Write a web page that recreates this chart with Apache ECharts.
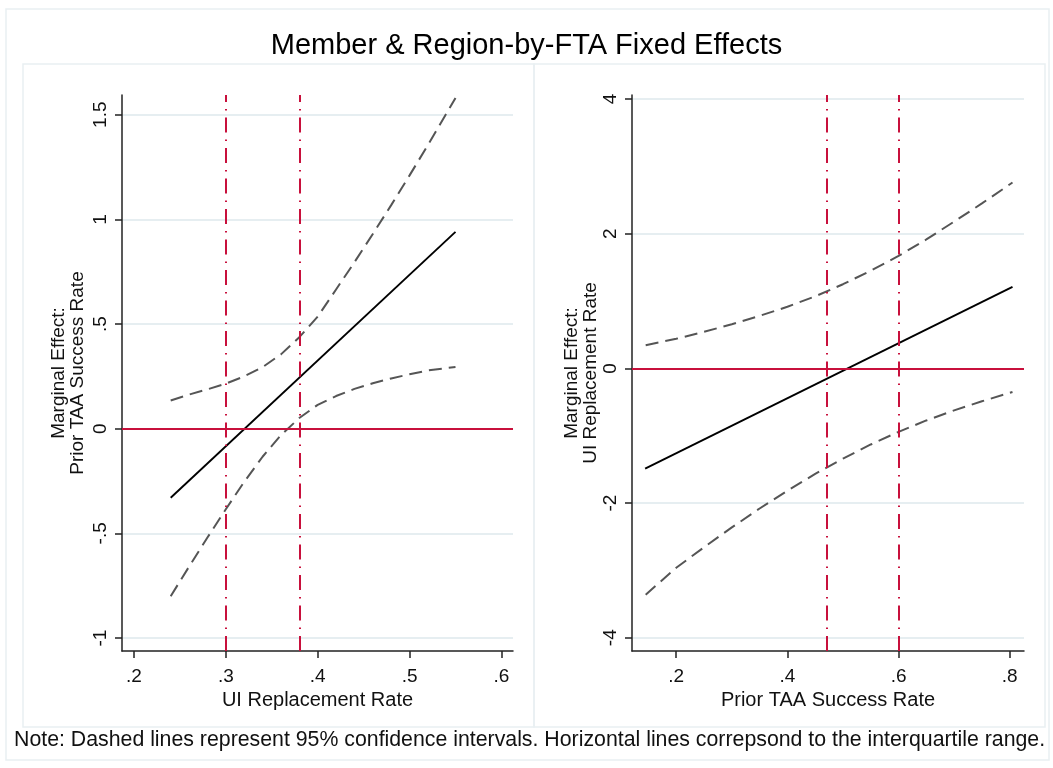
<!DOCTYPE html>
<html>
<head>
<meta charset="utf-8">
<script src="https://cdn.jsdelivr.net/npm/echarts@6/dist/echarts.min.js"></script>
<style>html,body{margin:0;padding:0;background:#fff;}#c{width:1053px;height:768px;}</style>
</head>
<body>
<div id="c"></div>
<script>
// ---------- data ----------
const titleText = 'Member & Region-by-FTA Fixed Effects';
const noteText = 'Note: Dashed lines represent 95% confidence intervals. Horizontal lines correpsond to the interquartile range.';

// Left panel: marginal effect of Prior TAA Success Rate vs UI Replacement Rate
const leftX      = [0.24, 0.26, 0.28, 0.30, 0.32, 0.34, 0.36, 0.38, 0.40, 0.42, 0.44, 0.46, 0.48, 0.50, 0.52, 0.55];
const leftUpper  = [0.135, 0.163, 0.188, 0.215, 0.250, 0.294, 0.355, 0.437, 0.535, 0.665, 0.795, 0.930, 1.068, 1.210, 1.355, 1.580];
const leftLower  = [-0.800, -0.659, -0.520, -0.385, -0.254, -0.134, -0.031, 0.051, 0.114, 0.156, 0.190, 0.217, 0.240, 0.260, 0.278, 0.295];
const leftCenterX = [0.24, 0.55];
const leftCenter  = [-0.33, 0.94];
const leftIQR    = [0.305, 0.376];
const leftXTicks = [0.2, 0.3, 0.4, 0.5, 0.6];
const leftYTicks = [-1, -0.5, 0, 0.5, 1, 1.5];
const leftXName  = 'UI Replacement Rate';
const leftYName  = 'Marginal Effect:\nPrior TAA Success Rate';

// Right panel: marginal effect of UI Replacement Rate vs Prior TAA Success Rate
const rightX     = [0.145, 0.20, 0.25, 0.30, 0.35, 0.40, 0.45, 0.50, 0.55, 0.60, 0.65, 0.70, 0.75, 0.805];
const rightUpper = [0.345, 0.439, 0.544, 0.655, 0.780, 0.915, 1.070, 1.250, 1.450, 1.670, 1.915, 2.180, 2.450, 2.760];
const rightLower = [-3.360, -2.961, -2.656, -2.362, -2.081, -1.816, -1.567, -1.339, -1.130, -0.942, -0.773, -0.624, -0.489, -0.350];
const rightCenterX = [0.144, 0.805];
const rightCenter  = [-1.49, 1.21];
const rightIQR   = [0.4712, 0.6006];
const rightXTicks = [0.2, 0.4, 0.6, 0.8];
const rightYTicks = [-4, -2, 0, 2, 4];
const rightXName = 'Prior TAA Success Rate';
const rightYName = 'Marginal Effect:\nUI Replacement Rate';

// ---------- styling ----------
const FONT = 'Liberation Sans, Arial, sans-serif';
const RED = '#c8103c';
const GRID = '#e6eef1';
const AXIS = '#222';
const CI = '#555';
const TICK_FS = 19;
const NAME_FS = 20;

function fmt(v) {
  let s = String(v);
  if (s.startsWith('0.')) s = s.slice(1);
  if (s.startsWith('-0.')) s = '-' + s.slice(2);
  return s;
}
const zip = (xs, ys) => xs.map((x, i) => [x, ys[i]]);

function xAxis(gi, min, max, ticks, name) {
  return {
    type: 'value', gridIndex: gi, min: min, max: max,
    name: name, nameLocation: 'middle', nameGap: 32,
    nameTextStyle: { fontFamily: FONT, fontSize: NAME_FS, color: '#111' },
    axisLine: { show: true, onZero: false, lineStyle: { color: AXIS, width: 1.5 } },
    axisTick: { show: true, length: 7, customValues: ticks, lineStyle: { color: AXIS, width: 1.5 } },
    axisLabel: { customValues: ticks, formatter: fmt, margin: 16, fontFamily: FONT, fontSize: TICK_FS, color: '#111' },
    splitLine: { show: false }
  };
}
function yAxis(gi, min, max, ticks, name, gap) {
  return {
    type: 'value', gridIndex: gi, min: min, max: max,
    name: name, nameLocation: 'middle', nameGap: gap, nameRotate: 90,
    nameTextStyle: { fontFamily: FONT, fontSize: 19, color: '#111', lineHeight: 19 },
    axisLine: { show: true, onZero: false, lineStyle: { color: AXIS, width: 1.5 } },
    axisTick: { show: true, length: 7, customValues: ticks, lineStyle: { color: AXIS, width: 1.5 } },
    axisLabel: { customValues: ticks, formatter: fmt, rotate: 90, margin: 12, fontFamily: FONT, fontSize: TICK_FS, color: '#111' },
    splitLine: { show: true, lineStyle: { color: GRID, width: 2 } }
  };
}
function refLines(iqr) {
  return {
    silent: true, symbol: 'none', label: { show: false },
    data: [
      ...iqr.map(v => ({ xAxis: v, lineStyle: { color: RED, width: 2, type: [15, 7, 1.5, 7] } })),
      { yAxis: 0, lineStyle: { color: RED, width: 2, type: 'solid' } }
    ]
  };
}
function panelSeries(gi, xs, up, lo, cx, cy, iqr) {
  const base = { type: 'line', xAxisIndex: gi, yAxisIndex: gi, showSymbol: false, symbol: 'none', silent: true, animation: false };
  return [
    Object.assign({}, base, { data: zip(xs, up), z: 3, lineStyle: { color: CI, width: 2, type: [13, 7] }, markLine: refLines(iqr) }),
    Object.assign({}, base, { data: zip(xs, lo), z: 3, lineStyle: { color: CI, width: 2, type: [13, 7] } }),
    Object.assign({}, base, { data: zip(cx, cy), z: 4, lineStyle: { color: '#000', width: 1.9, type: 'solid' } })
  ];
}

const chart = echarts.init(document.getElementById('c'), null, { renderer: 'canvas' });
chart.setOption({
  backgroundColor: '#fff',
  animation: false,
  title: { text: titleText, left: 'center', top: 26, textStyle: { fontFamily: FONT, fontSize: 29, fontWeight: 'normal', color: '#000' } },
  grid: [
    { left: 122, top: 95, width: 391, height: 556 },
    { left: 632, top: 95, width: 392, height: 556 }
  ],
  xAxis: [ xAxis(0, 0.187, 0.6126, leftXTicks, leftXName), xAxis(1, 0.1204, 0.8257, rightXTicks, rightXName) ],
  yAxis: [ yAxis(0, -1.062, 1.594, leftYTicks, leftYName, 35), yAxis(1, -4.197, 4.06, rightYTicks, rightYName, 32) ],
  series: [
    ...panelSeries(0, leftX, leftUpper, leftLower, leftCenterX, leftCenter, leftIQR),
    ...panelSeries(1, rightX, rightUpper, rightLower, rightCenterX, rightCenter, rightIQR)
  ],
  graphic: [
    { type: 'rect', shape: { x: 6, y: 9, width: 1043, height: 751 }, style: { fill: 'none', stroke: '#e9f0f2', lineWidth: 1.5 }, silent: true, z: -10 },
    { type: 'rect', shape: { x: 23, y: 64, width: 511, height: 663 }, style: { fill: 'none', stroke: '#e9f0f2', lineWidth: 1.5 }, silent: true, z: -10 },
    { type: 'rect', shape: { x: 534, y: 64, width: 511, height: 663 }, style: { fill: 'none', stroke: '#e9f0f2', lineWidth: 1.5 }, silent: true, z: -10 },
    { type: 'text', left: 14, top: 730, style: { text: noteText, fontFamily: FONT, fontSize: 21.3, fill: '#111' }, silent: true }
  ]
});
</script>
</body>
</html>
